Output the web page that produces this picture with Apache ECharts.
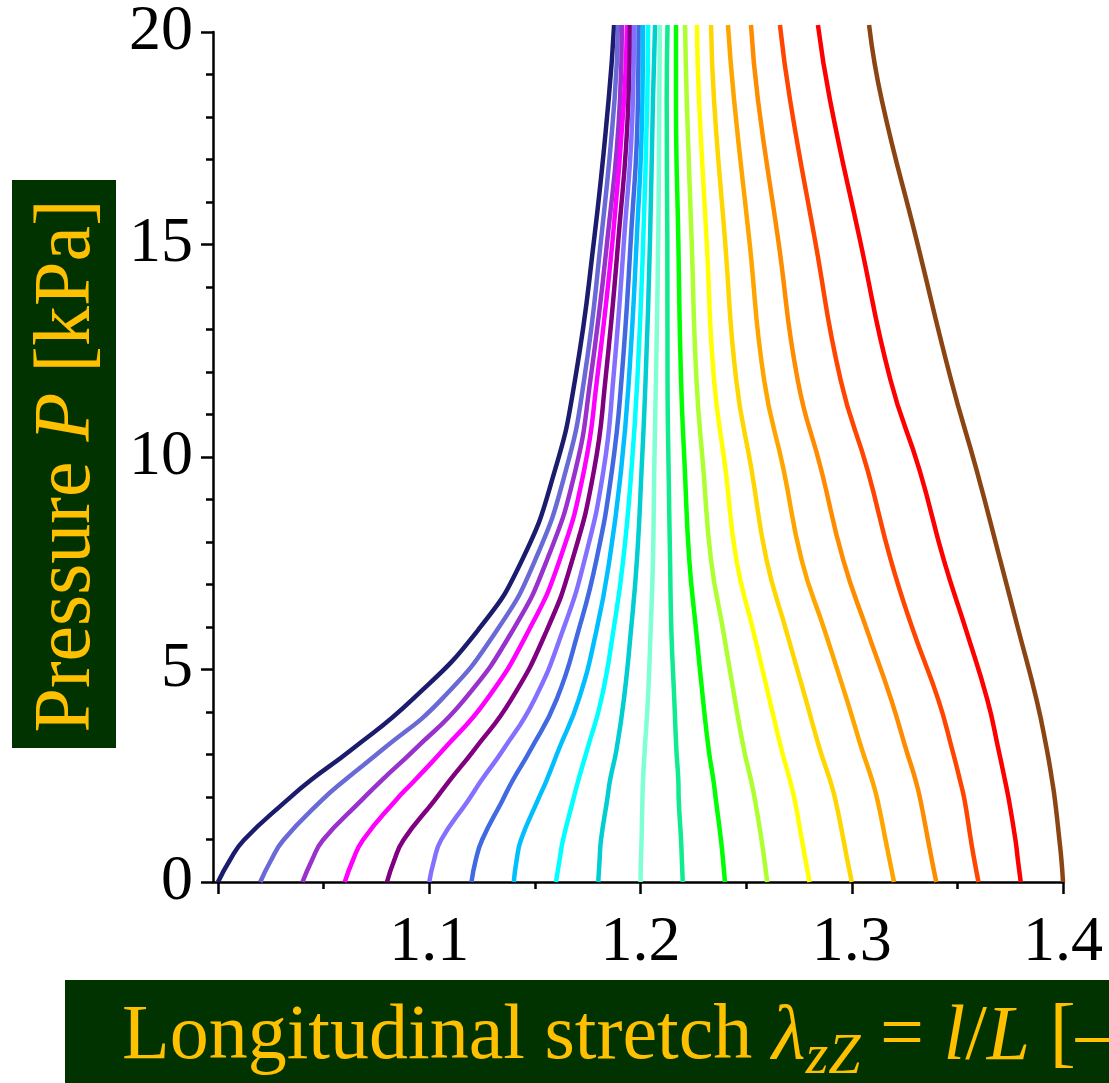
<!DOCTYPE html>
<html><head><meta charset="utf-8">
<script src="https://cdn.jsdelivr.net/npm/echarts@6/dist/echarts.min.js"></script>
<style>html,body{margin:0;padding:0;background:#fff}#c{width:1109px;height:1083px}</style>
</head><body><div id="c"></div><script>
// Pressure levels (kPa) at which each stretch curve was read
const pressure = [0, 0.49, 0.98, 1.91, 2.38, 3.08, 4.25, 5.88, 7.51, 9.61, 11.72, 14.98, 18.25, 20];
// Longitudinal stretch values for each curve (named by stretch at P = 0)
const s100 = [1.0000, 1.0054, 1.0123, 1.0327, 1.0440, 1.0630, 1.0918, 1.1231, 1.1439, 1.1595, 1.1690, 1.1780, 1.1849, 1.1875];
const s102 = [1.0200, 1.0249, 1.0310, 1.0492, 1.0601, 1.0776, 1.1056, 1.1321, 1.1501, 1.1647, 1.1733, 1.1813, 1.1877, 1.1893];
const s104 = [1.0400, 1.0443, 1.0497, 1.0680, 1.0776, 1.0928, 1.1165, 1.1396, 1.1557, 1.1692, 1.1763, 1.1843, 1.1903, 1.1912];
const s106 = [1.0600, 1.0637, 1.0686, 1.0842, 1.0933, 1.1065, 1.1271, 1.1472, 1.1617, 1.1733, 1.1794, 1.1868, 1.1922, 1.1936];
const s108 = [1.0800, 1.0833, 1.0878, 1.1026, 1.1098, 1.1212, 1.1387, 1.1557, 1.1677, 1.1780, 1.1834, 1.1895, 1.1943, 1.1950];
const s110 = [1.1000, 1.1022, 1.1056, 1.1185, 1.1248, 1.1349, 1.1497, 1.1633, 1.1735, 1.1825, 1.1871, 1.1922, 1.1964, 1.1969];
const s112 = [1.1200, 1.1219, 1.1250, 1.1347, 1.1396, 1.1479, 1.1602, 1.1707, 1.1791, 1.1865, 1.1910, 1.1954, 1.1988, 1.1991];
const s114 = [1.1400, 1.1413, 1.1434, 1.1514, 1.1556, 1.1612, 1.1707, 1.1792, 1.1853, 1.1908, 1.1945, 1.1982, 1.2009, 1.2012];
const s116 = [1.1600, 1.1616, 1.1633, 1.1681, 1.1706, 1.1747, 1.1814, 1.1872, 1.1918, 1.1957, 1.1985, 1.2013, 1.2032, 1.2036];
const s118 = [1.1800, 1.1806, 1.1813, 1.1842, 1.1856, 1.1886, 1.1921, 1.1955, 1.1983, 1.2005, 1.2024, 1.2045, 1.2059, 1.2069];
const s120 = [1.2000, 1.2002, 1.2005, 1.2009, 1.2012, 1.2020, 1.2035, 1.2048, 1.2059, 1.2065, 1.2073, 1.2084, 1.2089, 1.2092];
const s122 = [1.2200, 1.2196, 1.2192, 1.2181, 1.2179, 1.2170, 1.2160, 1.2146, 1.2140, 1.2133, 1.2128, 1.2127, 1.2124, 1.2128];
const s124 = [1.2400, 1.2391, 1.2381, 1.2357, 1.2345, 1.2323, 1.2296, 1.2263, 1.2231, 1.2210, 1.2192, 1.2179, 1.2168, 1.2168];
const s126 = [1.2600, 1.2587, 1.2573, 1.2542, 1.2523, 1.2490, 1.2447, 1.2391, 1.2334, 1.2298, 1.2265, 1.2242, 1.2219, 1.2211];
const s128 = [1.2800, 1.2782, 1.2764, 1.2730, 1.2707, 1.2668, 1.2611, 1.2533, 1.2454, 1.2403, 1.2348, 1.2313, 1.2277, 1.2267];
const s130 = [1.3000, 1.2980, 1.2961, 1.2923, 1.2897, 1.2850, 1.2783, 1.2689, 1.2597, 1.2526, 1.2453, 1.2400, 1.2348, 1.2334];
const s132 = [1.3200, 1.3180, 1.3160, 1.3122, 1.3096, 1.3049, 1.2977, 1.2871, 1.2763, 1.2678, 1.2585, 1.2515, 1.2443, 1.2414];
const s134 = [1.3400, 1.3380, 1.3361, 1.3325, 1.3302, 1.3258, 1.3187, 1.3072, 1.2960, 1.2856, 1.2744, 1.2652, 1.2556, 1.2523];
const s136 = [1.3600, 1.3581, 1.3564, 1.3534, 1.3512, 1.3476, 1.3410, 1.3290, 1.3185, 1.3075, 1.2947, 1.2826, 1.2708, 1.2660];
const s138 = [1.3800, 1.3787, 1.3775, 1.3744, 1.3725, 1.3695, 1.3642, 1.3541, 1.3436, 1.3321, 1.3183, 1.3039, 1.2897, 1.2840];
const s140 = [1.4000, 1.3993, 1.3983, 1.3962, 1.3948, 1.3924, 1.3875, 1.3789, 1.3703, 1.3591, 1.3470, 1.3307, 1.3142, 1.3082];

const curves = [s100, s102, s104, s106, s108, s110, s112, s114, s116, s118, s120,
                s122, s124, s126, s128, s130, s132, s134, s136, s138, s140];
const curveNames = ['1.00','1.02','1.04','1.06','1.08','1.10','1.12','1.14','1.16','1.18','1.20',
                    '1.22','1.24','1.26','1.28','1.30','1.32','1.34','1.36','1.38','1.40'];
const colors = ['#1c1c6e','#6a6ad6','#9932cc','#ff00ff','#800080','#8470ff','#4169e1','#00bfff',
                '#00ffff','#00ced1','#7fffd4','#10ea90','#00ff00','#adff2f','#ffff00','#ffd700',
                '#ffa500','#ff8c00','#ff4500','#ff0000','#8b4513'];
const yTicks = [0, 5, 10, 15, 20];
const xTicks = [1.1, 1.2, 1.3, 1.4];

const FONT = '"Liberation Serif", "Times New Roman", serif';
const chart = echarts.init(document.getElementById('c'), null, {renderer: 'canvas'});

const series = curves.map((arr, i) => ({
  type: 'line',
  name: curveNames[i],
  xAxisIndex: 1, yAxisIndex: 1,
  data: arr.map((x, k) => [x, pressure[k]]),
  smooth: 0.5,
  showSymbol: false,
  symbol: 'none',
  lineStyle: {color: colors[i], width: 4.5, cap: 'butt', join: 'round'},
  z: 3,
  animation: false
}));

chart.setOption({
  animation: false,
  backgroundColor: '#ffffff',
  grid: [
    {left: 213, right: 46, top: 25, bottom: 201},
    {left: 218, right: 46, top: 25, bottom: 201}
  ],
  xAxis: [
    {gridIndex: 0, type: 'value', min: 0, max: 1,
     axisLine: {show: true, lineStyle: {color: '#000', width: 2.5}},
     axisTick: {show: false}, axisLabel: {show: false}, splitLine: {show: false}},
    {gridIndex: 1, type: 'value', min: 1.0, max: 1.4, interval: 0.1,
     axisLine: {show: false},
     axisTick: {show: true, length: 12, lineStyle: {color: '#000', width: 2.5}},
     minorTick: {show: true, splitNumber: 2, length: 7, lineStyle: {color: '#000', width: 2.5}},
     axisLabel: {show: true, margin: 29, color: '#000', fontFamily: FONT, fontSize: 64,
       formatter: v => {
         const hit = xTicks.find(t => Math.abs(t - v) < 1e-9);
         return hit === undefined ? '' : hit.toFixed(1);
       }},
     splitLine: {show: false}, minorSplitLine: {show: false}}
  ],
  yAxis: [
    {gridIndex: 0, type: 'value', min: 0, max: 20, interval: 5,
     axisLine: {show: true, lineStyle: {color: '#000', width: 2.5}},
     axisTick: {show: true, length: 12, lineStyle: {color: '#000', width: 2.5}},
     minorTick: {show: true, splitNumber: 5, length: 7, lineStyle: {color: '#000', width: 2.5}},
     axisLabel: {show: true, margin: 20, color: '#000', fontFamily: FONT, fontSize: 64,
       formatter: v => {
         const hit = yTicks.find(t => Math.abs(t - v) < 1e-9);
         return hit === undefined ? '' : String(hit);
       }},
     splitLine: {show: false}},
    {gridIndex: 1, type: 'value', min: 0, max: 20, show: false, splitLine: {show: false}}
  ],
  series: series,
  graphic: [
    {type: 'rect', left: 12, top: 180, shape: {width: 104, height: 568},
     style: {fill: '#003300'}, z: 10},
    {type: 'text', x: 68, y: 466, rotation: Math.PI / 2, z: 11,
     style: {text: 'Pressure {i|P} [kPa]', fill: '#ffc000', font: '80px ' + FONT,
       textAlign: 'center', textVerticalAlign: 'middle',
       rich: {i: {fontStyle: 'italic', fontSize: 80, fontFamily: FONT, fill: '#ffc000'}}}},
    {type: 'rect', left: 65, top: 980, shape: {width: 1100, height: 110},
     style: {fill: '#003300'}, z: 10},
    {type: 'text', x: 122, y: 1038, z: 11,
     style: {text: 'Longitudinal stretch {i|λ}{sub|zZ} = {i|l}/{i|L} [–]', fill: '#ffc000',
       font: '78px ' + FONT, textAlign: 'left', textVerticalAlign: 'middle',
       rich: {
         i: {fontStyle: 'italic', fontSize: 78, fontFamily: FONT, fill: '#ffc000'},
         sub: {fontStyle: 'italic', fontSize: 58, fontFamily: FONT, fill: '#ffc000', padding: [40, 0, 0, 0]}
       }}}
  ]
});
</script></body></html>
